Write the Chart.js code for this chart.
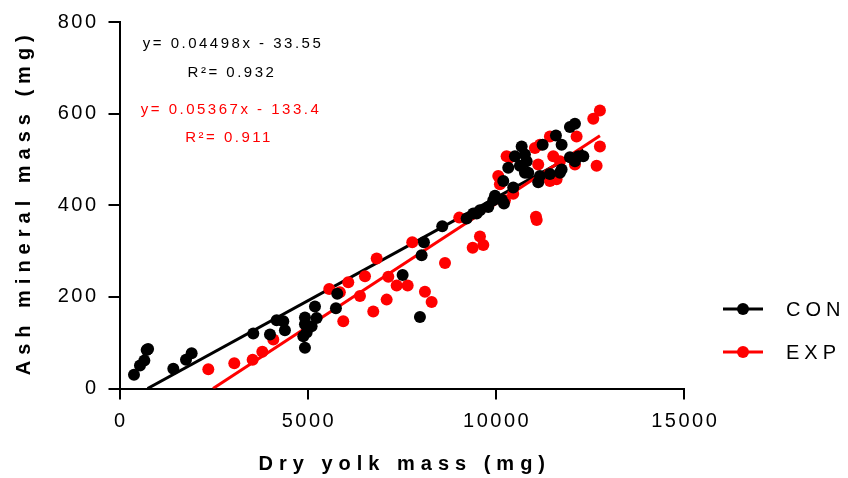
<!DOCTYPE html>
<html><head><meta charset="utf-8">
<script src="https://cdn.jsdelivr.net/npm/chart.js@4/dist/chart.umd.min.js"></script>
<style>html,body{margin:0;padding:0;background:#fff}#wrap{width:848px;height:478px}</style>
</head><body><div id="wrap"><canvas id="c" width="848" height="478"></canvas></div>
<script>
const seriesNames = ['CON', 'EXP'];
const conX = [385,544,660,722,760,1430,1767,1917,3555,3999,4176,4353,4396,4928,4928,4973,4928,5105,4884,5238,5194,5751,5787,7524,7984,8028,8090,8576,9490,9799,10216,9224,9401,9578,9977,9932,10160,10197,10462,10330,10773,10862,10640,10819,10773,10508,10686,11244,11748,11597,11969,12102,11126,11172,11437,11703,11748,11969,12191,12324,12102];
const conY = [30,50,61,84,86,43,63,77,120,118,149,147,127,155,89,122,140,136,114,154,179,175,207,248,156,291,319,354,382,396,404,371,382,389,421,411,412,453,439,482,471,471,486,496,511,507,528,532,532,552,571,578,450,464,468,471,478,505,507,507,496];
const expX = [2360,3050,3538,3795,4087,5574,5855,6079,5946,6390,6523,6743,6834,7099,7143,7365,7657,7779,8116,8294,8649,9028,9385,9578,9667,10064,10108,10241,10462,10286,10375,11039,11172,11437,11126,11526,11703,11437,11614,11066,11086,12102,12146,12678,12766,12589,12766];
const expY = [42,55,63,80,107,217,210,232,147,202,245,168,284,194,244,225,225,319,211,189,274,373,307,332,313,464,446,411,425,507,504,525,532,550,489,507,496,453,457,375,368,489,550,486,528,589,607];
const conFit = {slope: 0.04498, intercept: -33.55, eq: 'y= 0.04498x - 33.55', r2: 'R\u00B2= 0.932'};
const expFit = {slope: 0.05367, intercept: -133.4, eq: 'y= 0.05367x - 133.4', r2: 'R\u00B2= 0.911'};
const xTicks = [0, 5000, 10000, 15000];
const yTicks = [0, 200, 400, 600, 800];
const xTitle = 'Dry yolk mass (mg)';
const yTitle = 'Ash mineral mass (mg)';
const colors = ['#000000', '#ff0000'];

const FONT = "'Liberation Sans', Arial, sans-serif";
const pts = (xs, ys) => xs.map((x, i) => ({x: x, y: ys[i]}));
const fitLine = (fit, xs) => {
  const x0 = -fit.intercept / fit.slope;
  const x1 = Math.max(...xs);
  return [{x: x0, y: fit.slope * x0 + fit.intercept}, {x: x1, y: fit.slope * x1 + fit.intercept}];
};

const spacingPlugin = {
  id: 'spacing',
  beforeDraw(chart) {
    for (const s of Object.values(chart.scales)) {
      if (s._spPatched) continue;
      s._spPatched = true;
      const dl = s.drawLabels, dt = s.drawTitle;
      const horiz = s.isHorizontal();
      s.drawLabels = function (...a) {
        const c = this.ctx; c.save(); c.letterSpacing = '2.5px';
        if (horiz) c.translate(1.25, 0);
        dl.apply(this, a); c.restore();
      };
      s.drawTitle = function (...a) {
        const c = this.ctx; c.save(); c.letterSpacing = '6px';
        if (horiz) c.translate(3, 0); else c.translate(0, -3);
        dt.apply(this, a); c.restore();
      };
    }
  },
  afterDraw(chart) {
    const ctx = chart.ctx;
    ctx.save();
    // annotations
    ctx.textAlign = 'center'; ctx.textBaseline = 'middle';
    ctx.font = '15px ' + FONT; ctx.letterSpacing = '2.5px';
    ctx.fillStyle = colors[0];
    ctx.fillText(conFit.eq, 233, 44);
    ctx.fillText(conFit.r2, 232, 73);
    ctx.fillStyle = colors[1];
    ctx.fillText(expFit.eq, 231, 110);
    ctx.fillText(expFit.r2, 229, 138);
    // legend
    ctx.textAlign = 'left';
    ctx.font = '20px ' + FONT; ctx.letterSpacing = '5px';
    seriesNames.forEach((name, i) => {
      const y = 309 + i * 43;
      ctx.strokeStyle = colors[i]; ctx.lineWidth = 3;
      ctx.beginPath(); ctx.moveTo(723, y); ctx.lineTo(763, y); ctx.stroke();
      ctx.fillStyle = colors[i];
      ctx.beginPath(); ctx.arc(743, y, 6, 0, Math.PI * 2); ctx.fill();
      ctx.fillStyle = '#000';
      ctx.fillText(name, 786, y + 1);
    });
    ctx.restore();
  }
};

const axisCommon = {
  type: 'linear',
  grid: {drawOnChartArea: false, drawTicks: true, tickLength: 11, color: '#000', lineWidth: 2},
  border: {display: true, color: '#000', width: 2},
};

new Chart(document.getElementById('c'), {
  type: 'scatter',
  data: {
    datasets: [
      {label: seriesNames[0] + ' fit', type: 'line', data: fitLine(conFit, conX), borderColor: colors[0], borderWidth: 3, pointRadius: 0, fill: false, order: 4},
      {label: seriesNames[1] + ' fit', type: 'line', data: fitLine(expFit, expX), borderColor: colors[1], borderWidth: 3, pointRadius: 0, fill: false, order: 3},
      {label: seriesNames[1], data: pts(expX, expY), backgroundColor: colors[1], borderWidth: 0, pointRadius: 6, order: 2},
      {label: seriesNames[0], data: pts(conX, conY), backgroundColor: colors[0], borderWidth: 0, pointRadius: 6, order: 1}
    ]
  },
  options: {
    responsive: false, animation: false, devicePixelRatio: 1,
    layout: {padding: {left: 0, right: 164, top: 13.5, bottom: 0}},
    plugins: {legend: {display: false}, tooltip: {enabled: false}},
    scales: {
      x: Object.assign({}, axisCommon, {
        min: xTicks[0], max: xTicks[xTicks.length - 1],
        afterBuildTicks: s => { s.ticks = xTicks.map(v => ({value: v})); },
        afterFit: s => { s.height = 89.5; },
        ticks: {color: '#000', font: {family: FONT, size: 20}, padding: 10, maxRotation: 0, autoSkip: false, callback: v => String(v)},
        title: {display: true, text: xTitle, color: '#000', font: {family: FONT, size: 20, weight: 'bold'}, padding: {top: 0, bottom: 2}}
      }),
      y: Object.assign({}, axisCommon, {
        min: yTicks[0], max: yTicks[yTicks.length - 1],
        afterBuildTicks: s => { s.ticks = yTicks.map(v => ({value: v})); },
        afterFit: s => { s.width = 119.5; },
        ticks: {color: '#000', font: {family: FONT, size: 20}, padding: 10, autoSkip: false, callback: v => String(v)},
        title: {display: true, text: yTitle, color: '#000', font: {family: FONT, size: 20, weight: 'bold'}, padding: {top: 12, bottom: 0}}
      })
    }
  },
  plugins: [spacingPlugin]
});
</script>
</body></html>
